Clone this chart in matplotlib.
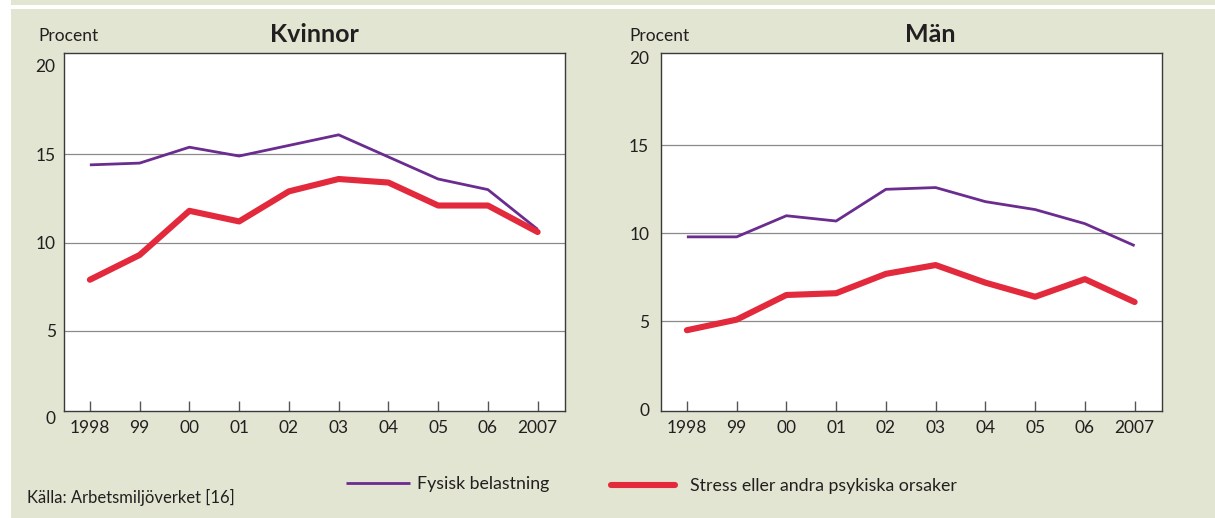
import matplotlib
matplotlib.use("Agg")
import matplotlib.pyplot as plt
from matplotlib.patches import Rectangle

plt.rcParams['font.family'] = ['Lato', 'DejaVu Sans']

# ---- data ----
years = ["1998", "99", "00", "01", "02", "03", "04", "05", "06", "2007"]
kv_fysisk = [14.4, 14.5, 15.4, 14.9, 15.5, 16.1, 14.85, 13.6, 13.0, 10.75]
kv_stress = [7.9, 9.3, 11.8, 11.2, 12.9, 13.6, 13.4, 12.1, 12.1, 10.6]
man_fysisk = [9.8, 9.8, 11.0, 10.7, 12.5, 12.6, 11.8, 11.35, 10.55, 9.3]
man_stress = [4.5, 5.1, 6.5, 6.6, 7.7, 8.2, 7.2, 6.4, 7.4, 6.1]
yticks_vals = [0, 5, 10, 15, 20]
grid_vals = [5, 10, 15]
titles = ["Kvinnor", "Män"]
ylabel = "Procent"
legend_labels = ["Fysisk belastning", "Stress eller andra psykiska orsaker"]
source = "Källa: Arbetsmiljöverket [16]"

# ---- style ----
BG = "#e1e5d1"
PURPLE = "#6b2c8f"
RED = "#e22a3c"
SPINE = "#3a3a3a"
GRID = "#8a8a8a"
TXT = "#231f20"

W, H = 1215, 518
fig = plt.figure(figsize=(W / 100, H / 100), dpi=100, facecolor="white")

# background frame
fig.add_artist(Rectangle((11 / W, 0), 1 - 11 / W, (H - 7) / H - 2 / H,
                         transform=fig.transFigure, facecolor=BG, edgecolor="none", zorder=-10))
fig.add_artist(Rectangle((11 / W, (H - 5) / H), 1 - 11 / W, 5 / H,
                         transform=fig.transFigure, facecolor=BG, edgecolor="none", zorder=-10))

def fx(px):
    return px / W

def fy(py):
    return (H - py) / H

ax_bottom = fy(410.7)
ax_height = (410.7 - 53) / H
axL = fig.add_axes([fx(64), ax_bottom, fx(501), ax_height])
axR = fig.add_axes([fx(661), ax_bottom, fx(501), ax_height])

x = list(range(len(years)))

panels = [
    (axL, kv_fysisk, kv_stress, (0.49, 20.73), [5, 10, 15, 20], 6, 314.5),
    (axR, man_fysisk, man_stress, (-0.07, 20.24), yticks_vals, 8.5, 930),
]

for i, (ax, fys, stress, ylim, yt, ypad, title_x) in enumerate(panels):
    ax.set_facecolor("white")
    for v in grid_vals:
        ax.axhline(v, color=GRID, lw=0.9, zorder=1)
    ax.plot(x, fys, color=PURPLE, lw=2.0, zorder=3, solid_capstyle="butt", solid_joinstyle="round")
    ax.plot(x, stress, color=RED, lw=4.4, zorder=4, solid_capstyle="round", solid_joinstyle="round")
    ax.set_xlim(-0.52, 9.55)
    ax.set_ylim(*ylim)
    ax.set_xticks(x)
    ax.set_xticklabels(years)
    ax.set_yticks(yt)
    ax.set_yticklabels([str(v) for v in yt])
    ax.tick_params(axis="x", direction="in", length=7.2, width=1.0, color="#555555",
                   pad=7, labelsize=12.5, labelcolor=TXT)
    ax.tick_params(axis="y", length=0, pad=ypad, labelsize=12.5, labelcolor=TXT)
    for s in ax.spines.values():
        s.set_color(SPINE)
        s.set_linewidth(1.0)
    fig.text(fx(title_x), fy(41.5), titles[i], ha="center", va="baseline",
             fontsize=18, fontweight="bold", color=TXT)

# "0" label for left panel sits below the axis
axL.annotate("0", xy=(0, 0), xycoords=("axes fraction", "data"),
             xytext=(-6, 0), textcoords="offset points", ha="right", va="center",
             fontsize=12.5, color=TXT, annotation_clip=False)

fig.text(fx(38), fy(41), ylabel, ha="left", va="baseline", fontsize=12.5, color=TXT)
fig.text(fx(629), fy(41), ylabel, ha="left", va="baseline", fontsize=12.5, color=TXT)

# legends
h1, = axL.plot([], [], color=PURPLE, lw=2.0, solid_capstyle="butt")
h2, = axL.plot([], [], color=RED, lw=4.4, solid_capstyle="round")
fig.legend([h1], [legend_labels[0]], loc="center left", bbox_to_anchor=(fx(346), fy(484)),
           frameon=False, fontsize=12.8, handlelength=3.6, handletextpad=0.4,
           borderpad=0, borderaxespad=0, labelcolor=TXT)
fig.legend([h2], [legend_labels[1]], loc="center left", bbox_to_anchor=(fx(611), fy(486)),
           frameon=False, fontsize=12.8, handlelength=3.6, handletextpad=0.85,
           borderpad=0, borderaxespad=0, labelcolor=TXT)

fig.text(fx(27), fy(503), source, ha="left", va="baseline", fontsize=12, color=TXT)

fig.savefig("out.png", dpi=100, facecolor="white")
